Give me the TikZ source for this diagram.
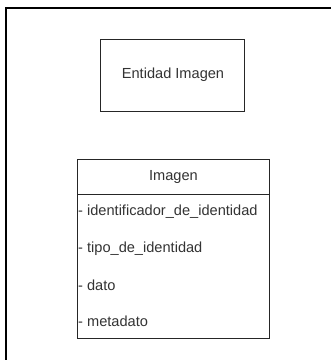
\documentclass[tikz,border=0pt]{standalone}
\usepackage{fontspec}
\setmainfont{Liberation Sans}
\begin{document}
\begin{tikzpicture}[x=1pt,y=-1pt,
  box/.style={draw=black!85,line width=1pt},
  lbl/.style={font=\fontsize{14.6}{17}\selectfont,text=black!80,inner sep=0pt},
  attr/.style={lbl,anchor=west}]
\useasboundingbox[fill=white] (0,0) rectangle (331,360);
\draw[line width=2.4pt,black] (6,360) -- (6,8) -- (331,8);
% Entidad Imagen
\draw[box] (101,39) rectangle (245,111);
\node[lbl] (ent) at (173,75) {Entidad Imagen};
% Class Imagen
\draw[box] (77.5,159) rectangle (269.5,338);
\coordinate (hl) at (77.5,194.5);
\coordinate (hr) at (269.5,194.5);
\draw[box] (hl) -- (hr);
\node[lbl] (title) at (173.5,177) {Imagen};
\node[attr] (a1) at (78,212) {- identificador\_de\_identidad};
\node[attr] (a2) at (78,248.5) {- tipo\_de\_identidad};
\node[attr] (a3) at (78,285) {- dato};
\node[attr] (a4) at (78,321.5) {- metadato};
\end{tikzpicture}
\end{document}
